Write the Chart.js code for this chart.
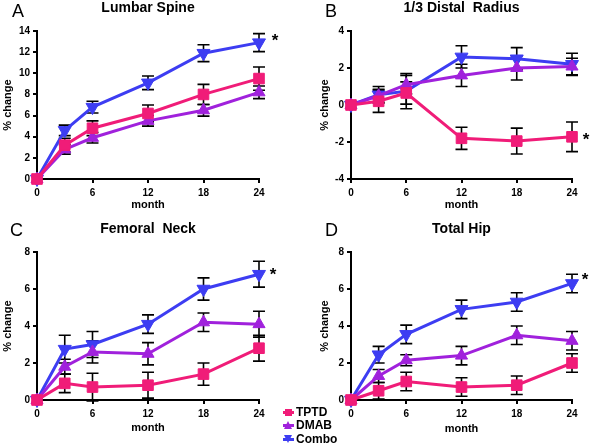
<!DOCTYPE html>
<html>
<head>
<meta charset="utf-8">
<script src="https://cdn.jsdelivr.net/npm/chart.js@4.4.1/dist/chart.umd.min.js"></script>
<style>
  html, body { margin:0; padding:0; background:#fff; }
  body { width:593px; height:446px; position:relative; overflow:hidden; font-family:"Liberation Sans", Arial, Helvetica, sans-serif; }
  canvas { position:absolute; }
  .letter { position:absolute; font-size:18px; line-height:18px; color:#000; }
  .lg { position:absolute; left:282px; height:14px; font-size:12px; line-height:14px; font-weight:bold; color:#000; white-space:nowrap; }
  .lg .ln { position:absolute; left:1px; top:6px; width:11px; height:3px; }
  .lg .sq { position:absolute; left:3px; top:4px; width:7px; height:7px; }
  .lg .tu { position:absolute; left:2px; top:3px; width:0; height:0; border-left:4.5px solid transparent; border-right:4.5px solid transparent; border-bottom:8px solid; }
  .lg .td { position:absolute; left:2px; top:3px; width:0; height:0; border-left:4.5px solid transparent; border-right:4.5px solid transparent; border-top:8px solid; }
  .lg .tx { position:absolute; left:14px; top:0; }
</style>
</head>
<body>
<canvas id="cA" width="293" height="220" style="left:0px;top:0px;width:293px;height:220px"></canvas>
<canvas id="cB" width="279" height="220" style="left:314px;top:0px;width:279px;height:220px"></canvas>
<canvas id="cC" width="293" height="226" style="left:0px;top:220px;width:293px;height:226px"></canvas>
<canvas id="cD" width="279" height="226" style="left:314px;top:220px;width:279px;height:226px"></canvas>

<div class="letter" style="left:12px;top:2px">A</div>
<div class="letter" style="left:325px;top:2px">B</div>
<div class="letter" style="left:10px;top:221px">C</div>
<div class="letter" style="left:325px;top:221px">D</div>

<div id="legend"></div>

<script>
// ---------- data ----------
const months = [0, 3, 6, 12, 18, 24];
const monthTicks = [0, 6, 12, 18, 24];
const seriesNames = ['TPTD', 'DMAB', 'Combo'];
const seriesColors = ['#f01c78', '#a021dc', '#3d3df2'];

const panelTitles = ['Lumbar Spine', '1/3 Distal  Radius', 'Femoral  Neck', 'Total Hip'];

const spineTPTD     = [0, 3.2, 4.8, 6.2, 8.0, 9.5];
const spineTPTDErr  = [0, 0.65, 0.7, 0.8, 0.95, 1.1];
const spineDMAB     = [0, 2.8, 3.9, 5.5, 6.5, 8.2];
const spineDMABErr  = [0, 0.45, 0.5, 0.5, 0.55, 0.6];
const spineCombo    = [0, 4.6, 6.8, 9.1, 11.9, 12.9];
const spineComboErr = [0, 0.5, 0.55, 0.65, 0.8, 0.85];
const spineTicks    = [0, 2, 4, 6, 8, 10, 12, 14];

const radiusTPTD     = [0, 0.2, 0.65, -1.8, -1.95, -1.72];
const radiusTPTDErr  = [0, 0.6, 0.6, 0.6, 0.7, 0.8];
const radiusDMAB     = [0, 0.5, 1.1, 1.6, 2.0, 2.08];
const radiusDMABErr  = [0, 0.35, 0.5, 0.6, 0.65, 0.45];
const radiusCombo    = [0, 0.55, 0.75, 2.6, 2.5, 2.2];
const radiusComboErr = [0, 0.45, 0.95, 0.6, 0.6, 0.6];
const radiusTicks    = [-4, -2, 0, 2, 4];

const neckTPTD     = [0, 0.9, 0.7, 0.8, 1.4, 2.8];
const neckTPTDErr  = [0, 0.5, 0.75, 0.7, 0.6, 0.7];
const neckDMAB     = [0, 1.8, 2.6, 2.5, 4.2, 4.1];
const neckDMABErr  = [0, 0.4, 0.6, 0.6, 0.5, 0.7];
const neckCombo    = [0, 2.75, 3.0, 4.1, 6.0, 6.8];
const neckComboErr = [0, 0.75, 0.7, 0.5, 0.6, 0.7];
const neckTicks    = [0, 2, 4, 6, 8];

const hipTPTD     = [0, 0.5, 1.0, 0.7, 0.8, 2.0];
const hipTPTDErr  = [0, 0.45, 0.5, 0.5, 0.5, 0.5];
const hipDMAB     = [0, 1.3, 2.15, 2.4, 3.5, 3.2];
const hipDMABErr  = [0, 0.35, 0.3, 0.5, 0.5, 0.5];
const hipCombo    = [0, 2.45, 3.55, 4.9, 5.3, 6.3];
const hipComboErr = [0, 0.45, 0.5, 0.5, 0.5, 0.5];
const hipTicks    = [0, 2, 4, 6, 8];

// ---------- plugins ----------
Chart.defaults.font.family = "'Liberation Sans', Arial, Helvetica, sans-serif";
Chart.defaults.color = '#000';

const errorBarPlugin = {
  id: 'errorBars',
  beforeDatasetsDraw(chart) {
    const ctx = chart.ctx;
    const xs = chart.scales.x, ys = chart.scales.y;
    ctx.save();
    ctx.strokeStyle = '#000';
    ctx.lineWidth = 1.6;
    chart.data.datasets.forEach(ds => {
      (ds.errors || []).forEach((e, i) => {
        if (!e) return;
        const p = ds.data[i];
        const x = xs.getPixelForValue(p.x);
        const y1 = ys.getPixelForValue(p.y + e);
        const y2 = ys.getPixelForValue(p.y - e);
        const cw = 6;
        ctx.beginPath();
        ctx.moveTo(x, y1); ctx.lineTo(x, y2);
        ctx.moveTo(x - cw, y1); ctx.lineTo(x + cw, y1);
        ctx.moveTo(x - cw, y2); ctx.lineTo(x + cw, y2);
        ctx.stroke();
      });
    });
    ctx.restore();
  }
};

const starPlugin = {
  id: 'star',
  afterDatasetsDraw(chart, args, opts) {
    if (opts.dataset == null) return;
    const ds = chart.data.datasets[opts.dataset];
    const p = ds.data[ds.data.length - 1];
    const x = chart.scales.x.getPixelForValue(p.x) + opts.dx;
    const y = chart.scales.y.getPixelForValue(p.y) + opts.dy;
    const ctx = chart.ctx;
    ctx.save();
    ctx.fillStyle = '#000';
    ctx.font = "bold 17px 'Liberation Sans', Arial, sans-serif";
    ctx.textAlign = 'center';
    ctx.textBaseline = 'alphabetic';
    ctx.fillText('*', x, y + 0.58 * 17);
    ctx.restore();
  }
};

function makeDatasets(vals, errs) {
  const styles = [
    { pointStyle: 'rect', pointRadius: 7.5, pointRotation: 0 },
    { pointStyle: 'triangle', pointRadius: 7, pointRotation: 0 },
    { pointStyle: 'triangle', pointRadius: 7.5, pointRotation: 180 }
  ];
  return seriesNames.map((name, k) => ({
    label: name,
    data: months.map((m, i) => ({ x: m, y: vals[k][i] })),
    errors: errs[k],
    borderColor: seriesColors[k],
    backgroundColor: seriesColors[k],
    pointBackgroundColor: seriesColors[k],
    pointBorderColor: seriesColors[k],
    pointBorderWidth: 1,
    borderWidth: 3,
    tension: 0,
    clip: false,
    pointStyle: styles[k].pointStyle,
    pointRadius: styles[k].pointRadius,
    pointRotation: styles[k].pointRotation
  }));
}

function makeChart(id, cfg) {
  const axisCommon = {
    type: 'linear',
    border: { display: true, color: '#000', width: 2 },
    grid: { display: true, drawOnChartArea: false, drawTicks: true, color: '#000', lineWidth: 2, tickLength: 4 },
  };
  return new Chart(document.getElementById(id), {
    type: 'line',
    data: { datasets: makeDatasets(cfg.vals, cfg.errs) },
    plugins: [errorBarPlugin, starPlugin],
    options: {
      responsive: false,
      animation: false,
      events: [],
      layout: { padding: { left: 0, top: 0, right: cfg.rightPad, bottom: 0 } },
      plugins: {
        legend: { display: false },
        tooltip: { enabled: false },
        title: {
          display: true, text: cfg.title, fullSize: false, color: '#000',
          font: { size: 14, weight: 'bold' },
          padding: { top: cfg.titleTop, bottom: cfg.titleBottom }
        },
        star: cfg.star
      },
      scales: {
        x: Object.assign({}, axisCommon, {
          min: 0, max: 24,
          afterBuildTicks: s => { s.ticks = monthTicks.map(v => ({ value: v })); },
          afterFit: s => { s.height = cfg.xH; },
          ticks: { font: { size: 10, weight: 'bold' }, color: '#000', padding: 4.5, maxRotation: 0, autoSkip: false },
          title: { display: true, text: 'month', color: '#000', font: { size: 11, weight: 'bold' }, padding: { top: 0, bottom: cfg.xTitlePad } }
        }),
        y: Object.assign({}, axisCommon, {
          min: cfg.yTicks[0], max: cfg.yTicks[cfg.yTicks.length - 1],
          afterBuildTicks: s => { s.ticks = cfg.yTicks.map(v => ({ value: v })); },
          afterFit: s => { s.width = 37; },
          ticks: { font: { size: 10, weight: 'bold' }, color: '#000', padding: 3, autoSkip: false },
          title: { display: true, text: '% change', color: '#000', font: { size: 11, weight: 'bold' }, padding: { top: cfg.yTitlePad, bottom: 0 } }
        })
      }
    }
  });
}

makeChart('cA', {
  title: panelTitles[0], vals: [spineTPTD, spineDMAB, spineCombo], errs: [spineTPTDErr, spineDMABErr, spineComboErr],
  yTicks: spineTicks, rightPad: 34, titleTop: 0, titleBottom: 14.2, xH: 41, xTitlePad: 8, yTitlePad: 1.5,
  star: { dataset: 2, dx: 16, dy: -6 }
});
makeChart('cB', {
  title: panelTitles[1], vals: [radiusTPTD, radiusDMAB, radiusCombo], errs: [radiusTPTDErr, radiusDMABErr, radiusComboErr],
  yTicks: radiusTicks, rightPad: 21, titleTop: 0, titleBottom: 14.2, xH: 41, xTitlePad: 8, yTitlePad: 4,
  star: { dataset: 0, dx: 14, dy: -2 }
});
makeChart('cC', {
  title: panelTitles[2], vals: [neckTPTD, neckDMAB, neckCombo], errs: [neckTPTDErr, neckDMABErr, neckComboErr],
  yTicks: neckTicks, rightPad: 34, titleTop: 1, titleBottom: 14.2, xH: 46, xTitlePad: 11, yTitlePad: 1.5,
  star: { dataset: 2, dx: 14, dy: -4 }
});
makeChart('cD', {
  title: panelTitles[3], vals: [hipTPTD, hipDMAB, hipCombo], errs: [hipTPTDErr, hipDMABErr, hipComboErr],
  yTicks: hipTicks, rightPad: 21, titleTop: 1, titleBottom: 14.2, xH: 46, xTitlePad: 10.5, yTitlePad: 4,
  star: { dataset: 2, dx: 13, dy: -8 }
});

// ---------- legend (HTML text) ----------
const legendTops = [404.7, 418, 432];
const shapeClass = ['sq', 'tu', 'td'];
const lg = document.getElementById('legend');
seriesNames.forEach((name, k) => {
  const row = document.createElement('div');
  row.className = 'lg';
  row.style.top = legendTops[k] + 'px';
  const ln = document.createElement('span'); ln.className = 'ln'; ln.style.background = seriesColors[k];
  const sh = document.createElement('span'); sh.className = shapeClass[k];
  if (k === 0) sh.style.background = seriesColors[k]; else sh.style.color = seriesColors[k];
  const tx = document.createElement('span'); tx.className = 'tx'; tx.textContent = name;
  row.appendChild(ln); row.appendChild(sh); row.appendChild(tx);
  lg.appendChild(row);
});
</script>
</body>
</html>
